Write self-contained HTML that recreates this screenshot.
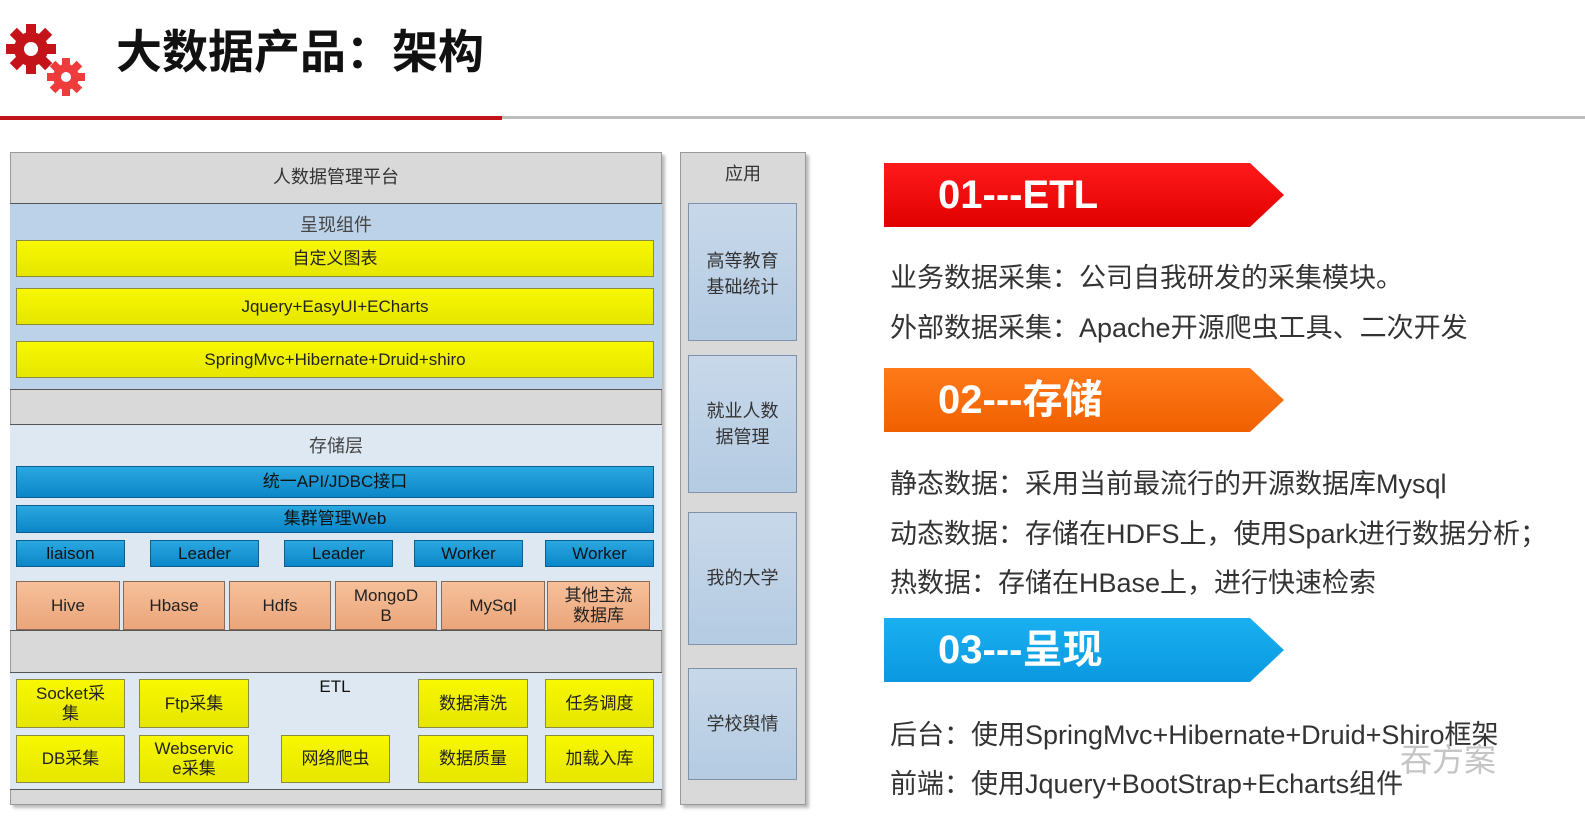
<!DOCTYPE html>
<html><head><meta charset="utf-8"><style>
body{margin:0;width:1585px;height:834px;background:#fff;position:relative;overflow:hidden;font-family:"Liberation Sans","Noto Sans CJK SC",sans-serif}
.a{position:absolute;box-sizing:border-box}
.c{display:flex;align-items:center;justify-content:center;text-align:center;line-height:1.15}
.y{background:linear-gradient(#f8f800,#e6e600);border:1px solid #8a8a40;font-size:17px;color:#222}
.b{background:linear-gradient(#2aa8e0,#0b86c8);border:1px solid #0a5f90;font-size:17px;color:#111}
.o{background:linear-gradient(#f6c09a,#eba57a);border:1px solid #8a6a55;font-size:17px;color:#222}
.g{background:#d9d9d9}
.ap{background:linear-gradient(#c8d8ea,#b4cbe2);border:1px solid #7f93a8;font-size:18px;color:#333}
.t{font-size:27px;color:#333;white-space:nowrap}
.ban{position:absolute;left:884px;width:400px;height:64px;clip-path:polygon(0 0,366px 0,400px 32px,366px 64px,0 64px);color:#fff;font-weight:bold;font-size:40px;padding-left:54px;box-sizing:border-box;line-height:64px}
</style></head><body>
<svg class="a" style="left:4px;top:22px" width="84" height="78" viewBox="0 0 84 78">
<g fill="#c4141a"><circle cx="27" cy="27" r="17"/>
<g transform="translate(27 27)"><rect x="-5" y="-25" width="10" height="50"/><rect x="-5" y="-25" width="10" height="50" transform="rotate(45)"/><rect x="-5" y="-25" width="10" height="50" transform="rotate(90)"/><rect x="-5" y="-25" width="10" height="50" transform="rotate(135)"/></g></g>
<circle cx="27" cy="27" r="7" fill="#fff"/>
<g fill="#ee3b3b"><circle cx="62" cy="55" r="13"/>
<g transform="translate(62 55)"><rect x="-4" y="-19" width="8" height="38"/><rect x="-4" y="-19" width="8" height="38" transform="rotate(45)"/><rect x="-4" y="-19" width="8" height="38" transform="rotate(90)"/><rect x="-4" y="-19" width="8" height="38" transform="rotate(135)"/></g></g>
<circle cx="62" cy="55" r="5" fill="#fff"/>
</svg>
<div class="a" style="left:116px;top:16px;font-size:46px;font-weight:bold;color:#111;white-space:nowrap">大数据产品：架构</div>
<div class="a" style="left:0;top:116px;width:502px;height:4px;background:#c0141a"></div>
<div class="a" style="left:502px;top:116px;width:1083px;height:3px;background:#bdbdbd"></div>

<!-- left panel -->
<div class="a g" style="left:10px;top:152px;width:652px;height:653px;border:1px solid #999;box-shadow:3px 3px 3px #bbb"></div>
<div class="a c" style="left:10px;top:152px;width:652px;height:50px;font-size:18px;color:#333">人数据管理平台</div>
<div class="a" style="left:10px;top:203px;width:652px;height:187px;background:#bcd2e8;border-top:1px solid #555;border-bottom:1px solid #555"></div>
<div class="a c" style="left:10px;top:212px;width:652px;height:26px;font-size:18px;color:#444">呈现组件</div>
<div class="a c y" style="left:16px;top:240px;width:638px;height:37px">自定义图表</div>
<div class="a c y" style="left:16px;top:288px;width:638px;height:37px">Jquery+EasyUI+ECharts</div>
<div class="a c y" style="left:16px;top:341px;width:638px;height:37px">SpringMvc+Hibernate+Druid+shiro</div>

<div class="a" style="left:10px;top:424px;width:652px;height:207px;background:#dde8f3;border-top:1px solid #555;border-bottom:1px solid #555"></div>
<div class="a c" style="left:10px;top:433px;width:652px;height:26px;font-size:18px;color:#444">存储层</div>
<div class="a c b" style="left:16px;top:466px;width:638px;height:32px">统一API/JDBC接口</div>
<div class="a c b" style="left:16px;top:505px;width:638px;height:28px">集群管理Web</div>
<div class="a c b" style="left:16px;top:540px;width:109px;height:27px">liaison</div>
<div class="a c b" style="left:150px;top:540px;width:109px;height:27px">Leader</div>
<div class="a c b" style="left:284px;top:540px;width:109px;height:27px">Leader</div>
<div class="a c b" style="left:414px;top:540px;width:109px;height:27px">Worker</div>
<div class="a c b" style="left:545px;top:540px;width:109px;height:27px">Worker</div>
<div class="a c o" style="left:16px;top:581px;width:104px;height:49px">Hive</div>
<div class="a c o" style="left:123px;top:581px;width:102px;height:49px">Hbase</div>
<div class="a c o" style="left:229px;top:581px;width:102px;height:49px">Hdfs</div>
<div class="a c o" style="left:335px;top:581px;width:102px;height:49px">MongoD<br>B</div>
<div class="a c o" style="left:441px;top:581px;width:104px;height:49px">MySql</div>
<div class="a c o" style="left:547px;top:581px;width:103px;height:49px">其他主流<br>数据库</div>

<div class="a" style="left:10px;top:672px;width:652px;height:118px;background:#dde8f3;border-top:1px solid #555;border-bottom:1px solid #555"></div>
<div class="a c y" style="left:16px;top:679px;width:109px;height:49px">Socket采<br>集</div>
<div class="a c y" style="left:139px;top:679px;width:110px;height:49px">Ftp采集</div>
<div class="a c" style="left:280px;top:676px;width:110px;height:22px;font-size:17px;color:#111">ETL</div>
<div class="a c y" style="left:418px;top:679px;width:110px;height:49px">数据清洗</div>
<div class="a c y" style="left:545px;top:679px;width:109px;height:49px">任务调度</div>
<div class="a c y" style="left:16px;top:735px;width:109px;height:48px">DB采集</div>
<div class="a c y" style="left:139px;top:735px;width:110px;height:48px">Webservic<br>e采集</div>
<div class="a c y" style="left:281px;top:735px;width:109px;height:48px">网络爬虫</div>
<div class="a c y" style="left:418px;top:735px;width:110px;height:48px">数据质量</div>
<div class="a c y" style="left:545px;top:735px;width:109px;height:48px">加载入库</div>

<!-- right panel -->
<div class="a g" style="left:680px;top:152px;width:126px;height:653px;border:1px solid #999;box-shadow:3px 3px 3px #bbb"></div>
<div class="a c" style="left:680px;top:160px;width:126px;height:28px;font-size:18px;color:#333">应用</div>
<div class="a ap" style="left:688px;top:203px;width:109px;height:138px;text-align:center;padding-top:44px;line-height:26px">高等教育<br>基础统计</div>
<div class="a ap" style="left:688px;top:355px;width:109px;height:138px;text-align:center;padding-top:42px;line-height:26px">就业人数<br>据管理</div>
<div class="a ap c" style="left:688px;top:512px;width:109px;height:133px">我的大学</div>
<div class="a ap c" style="left:688px;top:668px;width:109px;height:112px">学校舆情</div>

<!-- right text -->
<div class="ban" style="top:163px;background:linear-gradient(#ff1a1a,#e00000)">01---ETL</div>
<div class="a t" style="left:890px;top:256px">业务数据采集：公司自我研发的采集模块。</div>
<div class="a t" style="left:890px;top:306px">外部数据采集：Apache开源爬虫工具、二次开发</div>
<div class="ban" style="top:368px;background:linear-gradient(#ff7a1a,#f06000)">02---存储</div>
<div class="a t" style="left:890px;top:462px">静态数据：采用当前最流行的开源数据库Mysql</div>
<div class="a t" style="left:890px;top:512px">动态数据：存储在HDFS上，使用Spark进行数据分析；</div>
<div class="a t" style="left:890px;top:561px">热数据：存储在HBase上，进行快速检索</div>
<div class="ban" style="top:618px;background:linear-gradient(#1ab0f0,#0a98e0)">03---呈现</div>
<div class="a t" style="left:890px;top:713px">后台：使用SpringMvc+Hibernate+Druid+Shiro框架</div>
<div class="a t" style="left:890px;top:762px">前端：使用Jquery+BootStrap+Echarts组件</div>
<div class="a" style="left:1400px;top:735px;font-size:32px;color:rgba(150,150,150,0.55);white-space:nowrap">吞方案</div>
</body></html>
